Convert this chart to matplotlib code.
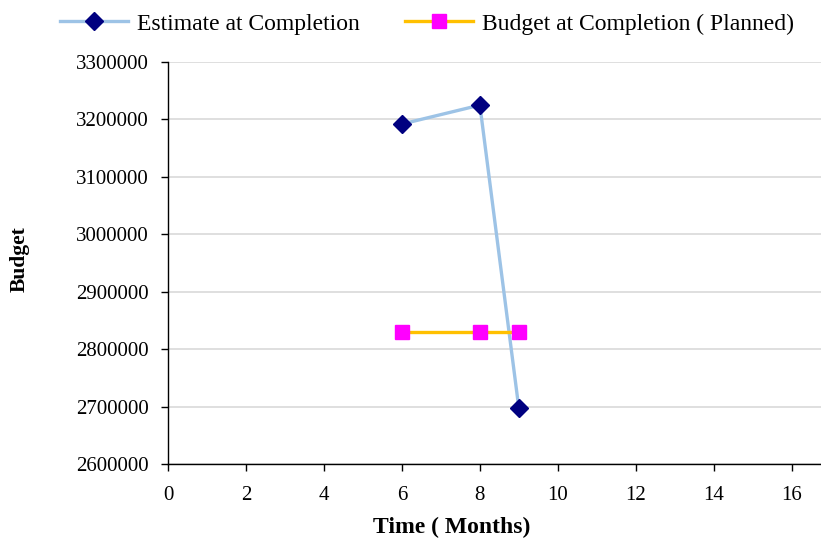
import matplotlib
matplotlib.use("Agg")
import matplotlib.pyplot as plt
from matplotlib.ticker import MultipleLocator, FormatStrFormatter

# Data
months_eac = [6, 8, 9]
eac_values = [3192000, 3225000, 2697000]

months_bac = [6, 8, 9]
bac_values = [2830000, 2830000, 2830000]

plt.rcParams["font.family"] = ["Liberation Serif", "DejaVu Serif"]

fig = plt.figure(figsize=(8.21, 5.40), dpi=100)
ax = fig.add_axes([0.2046, 0.1407, 0.7954, 0.7444])

ax.plot(months_eac, eac_values, color="#9DC3E6", linewidth=2.4,
        marker="D", markersize=9, markerfacecolor="#000080",
        markeredgecolor="#000080", label="Estimate at Completion", zorder=3)
ax.plot(months_bac, bac_values, color="#FFC000", linewidth=2.4,
        marker="s", markersize=10, markerfacecolor="#FF00FF",
        markeredgecolor="#FF00FF", label="Budget at Completion ( Planned)", zorder=3)

ax.set_xlim(0, 16.75)
ax.set_ylim(2600000, 3300000)
ax.xaxis.set_major_locator(MultipleLocator(2))
ax.yaxis.set_major_locator(MultipleLocator(100000))
ax.yaxis.set_major_formatter(FormatStrFormatter("%d"))

ax.grid(axis="y", color="#D9D9D9", linewidth=1.2)
ax.set_axisbelow(True)
for s in ("top", "right"):
    ax.spines[s].set_visible(False)
for s in ("left", "bottom"):
    ax.spines[s].set_color("black")
    ax.spines[s].set_linewidth(1.0)

ax.tick_params(axis="both", direction="out", length=5, width=1,
               labelsize=15, colors="black")
ax.tick_params(axis="x", pad=11)
ax.tick_params(axis="y", pad=9)

ax.set_xlabel("Time ( Months)", fontsize=17, fontweight="bold")
ax.xaxis.set_label_coords(0.434, -0.157)
ax.xaxis.label.set_verticalalignment("center")
ax.set_ylabel("Budget", fontsize=15.5, fontweight="bold")
ax.yaxis.set_label_coords(-0.227, 0.51)
ax.yaxis.label.set_verticalalignment("center")

fig.legend(loc="center left", bbox_to_anchor=(0.073, 0.9556),
           bbox_transform=fig.transFigure, ncol=2, frameon=False,
           fontsize=17, handlelength=2.9, columnspacing=1.9,
           handletextpad=0.38, borderpad=0, borderaxespad=0)

fig.savefig("out.png", dpi=100)
